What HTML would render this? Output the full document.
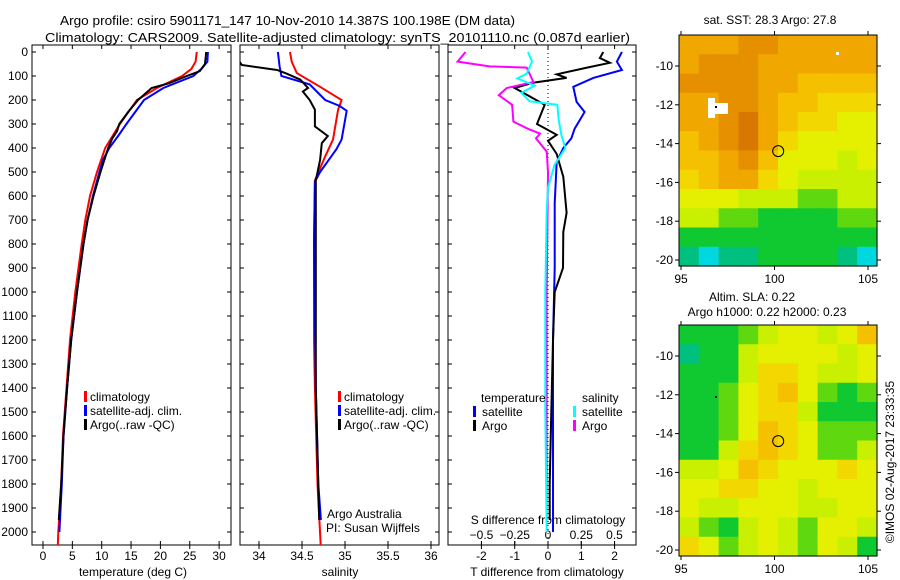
<!DOCTYPE html>
<html><head><meta charset="utf-8"><style>
html,body{margin:0;padding:0;background:#fff}
svg{display:block;font-family:"Liberation Sans",sans-serif;font-size:12px}
</style></head><body>
<svg id="c" width="900" height="580" viewBox="0 0 900 580" xmlns="http://www.w3.org/2000/svg">
<defs>
<clipPath id="cp1"><rect x="32" y="45" width="199" height="500"/></clipPath>
<clipPath id="cp2"><rect x="240" y="45" width="199" height="500"/></clipPath>
<clipPath id="cp3"><rect x="448" y="45" width="188" height="500"/></clipPath>
</defs>
<text x="60" y="25" textLength="455" lengthAdjust="spacingAndGlyphs" font-size="13">Argo profile: csiro 5901171_147 10-Nov-2010 14.387S 100.198E (DM data)</text>
<text x="45" y="42" textLength="585" lengthAdjust="spacingAndGlyphs" font-size="13">Climatology: CARS2009. Satellite-adjusted climatology: synTS_20101110.nc (0.087d earlier)</text>
<g id="g"></g>
</svg>
<script>
// ---- data ----
const depthTicks=[0,100,200,300,400,500,600,700,800,900,1000,1100,1200,1300,1400,1500,1600,1700,1800,1900,2000];
const tempTicks=[0,5,10,15,20,25,30];
const salTicks=[34,34.5,35,35.5,36];
const tdTicks=[-2,-1,0,1,2];
const sdTicks=[-0.5,-0.25,0,0.25,0.5];
const tempClimDepth=[0,40,70,100,150,200,300,400,500,600,700,800,1000,1200,1400,1600,1800,2000,2070];
const tempClimVal=[26.2,26.0,25.3,23.7,19.4,16,13.1,10.6,9.2,8,7.2,6.6,5.5,4.6,4.0,3.4,3.1,2.6,2.5];
const tempSatDepth=[0,40,70,100,150,200,300,350,400,450,500,600,700,800,1000,1200,1400,1600,1800,2000];
const tempSatVal=[28.1,28.0,27.0,25.6,20.5,17.2,14.2,12.8,11.3,10.2,9.6,8.5,7.6,6.9,5.8,4.8,4.1,3.5,3.2,2.8];
const tempArgoDepth=[0,50,80,100,130,150,200,250,300,330,360,400,500,600,700,800,1000,1200,1400,1600,1800,1950];
const tempArgoVal=[27.8,27.6,26.7,24.5,21.5,18.5,16.2,14.5,13.0,12.6,11.8,11.1,9.8,8.6,7.6,6.9,5.8,4.8,4.1,3.5,3.1,2.7];
const salClimDepth=[0,40,88,145,200,240,365,435,535,800,1200,1400,1800,2070];
const salClimVal=[34.36,34.38,34.44,34.71,34.96,34.92,34.86,34.77,34.65,34.64,34.64,34.65,34.68,34.72];
const salSatDepth=[0,60,100,135,200,225,245,365,405,500,540,800,1400,1800,1950];
const salSatVal=[34.22,34.24,34.26,34.59,34.77,34.94,35.02,34.96,34.9,34.71,34.65,34.64,34.66,34.69,34.72];
const salArgoDepth=[0,54,75,90,115,150,165,200,240,310,350,380,450,535,800,1400,1950];
const salArgoVal=[33.7,33.8,34.21,34.32,34.48,34.57,34.51,34.59,34.65,34.65,34.8,34.73,34.71,34.66,34.66,34.66,34.7];
const tdSatDepth=[0,40,75,108,145,208,250,320,360,400,458,630,900,1200,1500,1800,2000];
const tdSatVal=[2.22,2.07,2.22,1.36,0.76,0.86,1.1,0.8,0.7,0.46,0.26,0.2,0.2,0.15,0.15,0.15,0.15];
const tdArgoDepth=[0,25,45,65,93,108,128,150,185,220,300,345,370,425,520,670,750,900,1000,1200,1500,1800,1950];
const tdArgoVal=[1.66,1.56,1.86,1.17,0.26,0.56,-0.45,-1.0,-0.55,-0.1,-0.33,0.26,0,0.26,0.46,0.56,0.46,0.45,0.2,0.15,0.1,0.05,0.05];
const sdSatDepth=[0,40,90,110,140,170,205,220,280,345,400,470,565,660,1000,1500,2000];
const sdSatVal=[-0.15,-0.12,-0.16,-0.23,-0.1,-0.2,-0.14,0.07,0.08,0.1,0.13,0.05,0,-0.01,-0.02,-0.02,-0.01];
const sdArgoDepth=[0,40,60,65,125,150,180,220,290,320,340,360,415,500,1000,1500,1950];
const sdArgoVal=[-0.62,-0.68,-0.44,-0.16,-0.11,-0.31,-0.37,-0.27,-0.26,-0.15,-0.06,-0.09,-0.01,0,-0.01,-0.01,-0.01];
const sstGrid=[
[8,8,8,9,9,8,8,8,8,8],[8,9,9,9,8,8,8,8,8,8],[9,9,9,9,8,8,7,7,7,7],[8,8,9,9,8,7,7,6,6,6],
[8,8,9,10,8,7,6,6,5,5],[7,8,9,10,8,6,5,5,5,5],[7,7,8,9,7,5,5,5,4,5],[6,7,8,8,6,5,4,4,4,4],
[5,5,5,4,4,4,3,3,4,4],[4,4,3,3,2,2,2,2,3,3],[2,2,2,2,2,2,2,2,2,2],[1,0,1,1,2,2,2,2,1,0]];
const slaGrid=[
[2,2,2,3,4,5,5,4,5,7],[1,2,2,4,5,5,5,5,4,5],[2,2,2,4,6,6,5,4,4,5],[2,2,3,5,6,7,5,3,2,3],
[2,2,3,5,6,6,4,2,2,2],[2,2,3,5,7,6,5,3,3,3],[2,2,4,6,7,6,5,3,3,4],[4,4,5,7,6,5,5,5,6,5],
[5,5,6,6,5,5,4,5,5,5],[5,4,4,5,5,5,4,4,5,5],[4,3,2,4,5,4,3,5,5,4],[6,5,3,4,5,4,3,5,4,2]];
const lonTicks=[95,100,105];
const latTicks=[-10,-12,-14,-16,-18,-20];
const floatLon=100.198, floatLat=-14.387;

// ---- helpers ----
const NS='http://www.w3.org/2000/svg';
const G=document.getElementById('g');
function el(t,a,p){const e=document.createElementNS(NS,t);for(const k in a)e.setAttribute(k,a[k]);(p||G).appendChild(e);return e;}
function txt(x,y,s,anchor,p){const e=el('text',{x:x,y:y,'text-anchor':anchor||'start'},p);e.textContent=s;return e;}
const yD=d=>52+d*0.24;
const xT=t=>43+t*5.87;
const xS=s=>259+(s-34)*86;
const xTD=v=>548+v*33.3;
const xSD=v=>548+v*133;
const colors=['#00d8e0','#00c080','#10c830','#60d810','#c8f000','#e4f000','#f2d800','#f4c000','#f0a800','#e69000','#d87800'];

function frame(x0,x1,name){
  const r=el('rect',{x:x0,y:45,width:x1-x0,height:500,fill:'none',stroke:'#000','stroke-width':1});
  
  
  depthTicks.forEach(d=>{el('line',{x1:x0,x2:x0+4,y1:yD(d),y2:yD(d),stroke:'#000'});el('line',{x1:x1-4,x2:x1,y1:yD(d),y2:yD(d),stroke:'#000'});});
}
function series(xs,ds,vs,fx,color,clip,name,w){
  const pts=ds.map((d,i)=>fx(vs[i]).toFixed(1)+','+yD(d).toFixed(1)).join(' ');
  const p=el('polyline',{points:pts,fill:'none',stroke:color,'stroke-width':w||2,'clip-path':'url(#'+clip+')','stroke-linejoin':'miter'});
  
  
}

// panel 1
frame(32,231,'temperature-panel');
depthTicks.forEach(d=>{const t=txt(28,yD(d)+4,String(d),'end');});
tempTicks.forEach(v=>{el('line',{x1:xT(v),x2:xT(v),y1:45,y2:49,stroke:'#000'});el('line',{x1:xT(v),x2:xT(v),y1:541,y2:549,stroke:'#000'});const t=txt(xT(v),560,String(v),'middle');});
txt(133,576,'temperature (deg C)','middle');
series(0,tempClimDepth,tempClimVal,xT,'#f00','cp1','temperature-climatology-line');
series(0,tempSatDepth,tempSatVal,xT,'#00f','cp1','temperature-satellite-line');
series(0,tempArgoDepth,tempArgoVal,xT,'#000','cp1','temperature-argo-line');

// panel 2
frame(240,439,'salinity-panel');
salTicks.forEach(v=>{el('line',{x1:xS(v),x2:xS(v),y1:45,y2:49,stroke:'#000'});el('line',{x1:xS(v),x2:xS(v),y1:541,y2:549,stroke:'#000'});const t=txt(xS(v),560,String(v),'middle');});
txt(340,576,'salinity','middle');
series(0,salClimDepth,salClimVal,xS,'#f00','cp2','salinity-climatology-line');
series(0,salSatDepth,salSatVal,xS,'#00f','cp2','salinity-satellite-line');
series(0,salArgoDepth,salArgoVal,xS,'#000','cp2','salinity-argo-line');
txt(327,518,'Argo Australia');
txt(326,532,'PI: Susan Wijffels');

// legends panels 1,2
[[84,'p1'],[338,'p2']].forEach(([lx,k])=>{
  [['climatology','#f00',401],['satellite-adj. clim.','#00f',415],['Argo(..raw -QC)','#000',429]].forEach(([s,c,y])=>{
    el('rect',{x:lx,y:y-10,width:3,height:11,fill:c});
    const t=txt(lx+6,y,s);
  });
});

// panel 3
el('rect',{x:448,y:45,width:188,height:500,fill:'none',stroke:'#000'});
depthTicks.forEach(d=>{el('line',{x1:448,x2:452,y1:yD(d),y2:yD(d),stroke:'#000'});el('line',{x1:632,x2:636,y1:yD(d),y2:yD(d),stroke:'#000'});});
tdTicks.forEach(v=>{el('line',{x1:xTD(v),x2:xTD(v),y1:45,y2:49,stroke:'#000'});el('line',{x1:xTD(v),x2:xTD(v),y1:541,y2:549,stroke:'#000'});const t=txt(xTD(v),560,String(v),'middle');});
sdTicks.forEach(v=>{const t=txt(xSD(v),539,String(v).replace('-','\u2212'),'middle');el('line',{x1:xSD(v),x2:xSD(v),y1:541,y2:545,stroke:'#000'});});
txt(548,524,'S difference from climatology','middle');
txt(547,576,'T difference from climatology','middle');
el('line',{x1:548,x2:548,y1:45,y2:545,stroke:'#000','stroke-dasharray':'1,3'});
series(0,tdSatDepth,tdSatVal,xTD,'#00f','cp3','t-diff-satellite-line');
series(0,tdArgoDepth,tdArgoVal,xTD,'#000','cp3','t-diff-argo-line');
series(0,sdArgoDepth,sdArgoVal,xSD,'#f0f','cp3','s-diff-argo-line');
series(0,sdSatDepth,sdSatVal,xSD,'#0ff','cp3','s-diff-satellite-line');
txt(481,402,'temperature');
txt(582,402,'salinity');
[['satellite','#00f',473,416],['Argo','#000',473,430],['satellite','#0ff',573,416],['Argo','#f0f',573,430]].forEach(([s,c,x,y])=>{
  el('rect',{x:x,y:y-10,width:3,height:11,fill:c});
  const t=txt(x+9,y,s);
});

// maps
function map(top,grid,name){
  const x0=679,x1=877,y1=top+231;
  const lonX=l=>681+(l-95)*18.7;
  const latY=l=>top+31+(-10-l)*19.4;
  const rows=grid.length,cols=grid[0].length;
  const ch=(y1-top)/rows,cw=(x1-x0)/cols;
  grid.forEach((row,r)=>row.forEach((v,c)=>{
    const cell=el('rect',{x:(x0+c*cw).toFixed(2),y:(top+r*ch).toFixed(2),width:(cw+0.6).toFixed(2),height:(ch+0.6).toFixed(2),fill:colors[v]});
    
    
  }));
  const f=el('rect',{x:x0,y:top,width:x1-x0,height:y1-top,fill:'none',stroke:'#000'});
  
  lonTicks.forEach(l=>{el('line',{x1:lonX(l),x2:lonX(l),y1:top-4,y2:top,stroke:'#000'});el('line',{x1:lonX(l),x2:lonX(l),y1:y1,y2:y1+4,stroke:'#000'});const t=txt(lonX(l),y1+17,String(l),'middle');});
  latTicks.forEach(l=>{el('line',{x1:x0-4,x2:x0,y1:latY(l),y2:latY(l),stroke:'#000'});el('line',{x1:x1,x2:x1+4,y1:latY(l),y2:latY(l),stroke:'#000'});const t=txt(x0-6,latY(l)+4,String(l),'end');});
  const c=el('circle',{cx:lonX(floatLon),cy:latY(floatLat),r:5.5,fill:'none',stroke:'#000','stroke-width':1});
  
  
  return {lonX,latY};
}
map(35,sstGrid,'sst-map');
el('rect',{x:708,y:98,width:7,height:20,fill:'#fff'});
el('rect',{x:708,y:103,width:20,height:11,fill:'#fff'});
el('rect',{x:836,y:52,width:3,height:3,fill:'#fff'});
el('rect',{x:715,y:106,width:2,height:2,fill:'#000'});
txt(770,24,'sat. SST: 28.3 Argo: 27.8','middle');
map(325,slaGrid,'sla-map');
el('rect',{x:715,y:396,width:2,height:2,fill:'#000'});
txt(752,301,'Altim. SLA: 0.22','middle');
txt(767,316,'Argo h1000: 0.22 h2000: 0.23','middle');
const cr=txt(0,0,'\u00a9IMOS 02-Aug-2017 23:33:35','middle');
cr.setAttribute('transform','translate(894,462) rotate(-90)');


</script>
</body></html>
